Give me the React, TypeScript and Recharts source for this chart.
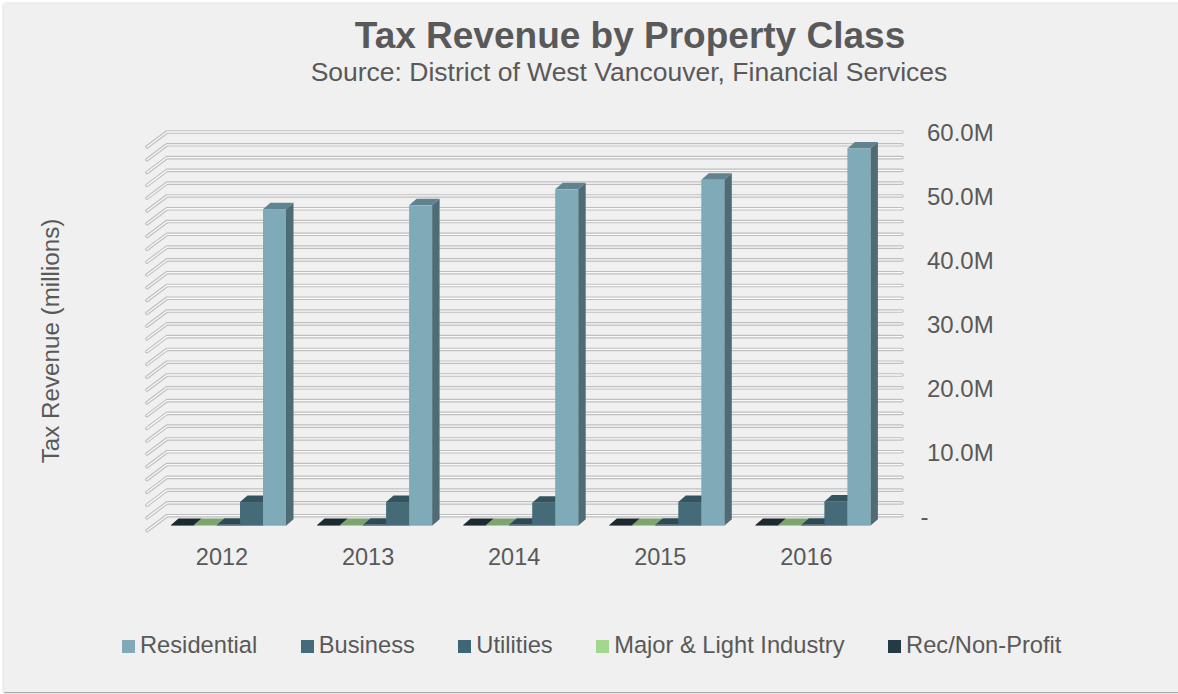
import React from 'react';
import { BarChart, Bar, XAxis, YAxis, CartesianGrid, Legend } from 'recharts';

// ---- data ----
const years = ['2012', '2013', '2014', '2015', '2016'];
const residential = [49.5, 50.1, 52.6, 54.1, 59.0];
const business = [3.7, 3.7, 3.6, 3.7, 3.8];
const utilities = [0.15, 0.15, 0.15, 0.15, 0.15];
const majorLight = [0.1, 0.1, 0.1, 0.1, 0.1];
const recNonProfit = [0.1, 0.1, 0.1, 0.1, 0.1];

const yTicks = [0, 2, 4, 6, 8, 10, 12, 14, 16, 18, 20, 22, 24, 26, 28, 30, 32, 34, 36, 38, 40, 42, 44, 46, 48, 50, 52, 54, 56, 58, 60];
const yLabelValues = [0, 10, 20, 30, 40, 50, 60];
const yLabelTexts = ['-', '10.0M', '20.0M', '30.0M', '40.0M', '50.0M', '60.0M'];

const legendNames = ['Residential', 'Business', 'Utilities', 'Major & Light Industry', 'Rec/Non-Profit'];
const legendColors = ['#80AAB9', '#436B7A', '#3F6676', '#A2D88E', '#243B45'];

const data = years.map((year, i) => ({
  year,
  rec: recNonProfit[i],
  major: majorLight[i],
  util: utilities[i],
  business: business[i],
  residential: residential[i],
}));

const FONT = '"Liberation Sans", Arial, Helvetica, sans-serif';
const TEXT = '#595959';

function make3DShape(front: string, top: string, side: string) {
  return (props: any) => {
    const { x, y, width, height } = props;
    if (x == null || y == null) return null;
    const dx = 7.5;
    const dy = 6.5;
    const off = 10;
    const fy = y + off;
    const fb = y + height + off;
    const r = x + width;
    return (
      <g>
        <path d={`M${x},${fy} L${x + dx},${fy - dy} L${r + dx},${fy - dy} L${r},${fy} Z`} fill={top} />
        <path d={`M${r},${fy} L${r + dx},${fy - dy} L${r + dx},${fb - dy} L${r},${fb} Z`} fill={side} />
        <rect x={x} y={fy} width={width} height={Math.max(height, 0)} fill={front} />
      </g>
    );
  };
}

const gridLine = (props: any) => {
  const { x1, x2, y1, index } = props;
  const d = `M${x1 - 7.5},${y1 + 15} L${x1 + 12.5},${y1} L${x2 + 17},${y1}`;
  return (
    <g key={`gl-${index}-${y1}`}>
      <path d={d} fill="none" stroke="#BEBEBE" strokeWidth={3.6} strokeLinecap="round" strokeLinejoin="round" />
      <path d={d} fill="none" stroke="#FAFAFA" strokeWidth={1.3} strokeLinecap="round" strokeLinejoin="round" />
    </g>
  );
};

const XTick = (props: any) => {
  const { x, y, payload } = props;
  return (
    <text x={x - 5.5} y={y + 49.3} textAnchor="middle" fontFamily={FONT} fontSize={23.5} fill={TEXT}>
      {payload.value}
    </text>
  );
};

const YTick = (props: any) => {
  const { x, y, payload } = props;
  const idx = yLabelValues.indexOf(payload.value);
  if (idx < 0) return <g />;
  const isZero = payload.value === 0;
  return (
    <text x={x + (isZero ? 35.5 : 42)} y={y + 9} textAnchor="start" fontFamily={FONT} fontSize={24} fill={TEXT}>
      {yLabelTexts[idx]}
    </text>
  );
};

const LegendContent = () => (
  <div
    style={{
      height: 30,
      display: 'flex',
      alignItems: 'center',
      paddingLeft: 122,
      fontFamily: FONT,
      fontSize: 23.7,
      lineHeight: '30px',
      color: TEXT,
      whiteSpace: 'nowrap',
    }}
  >
    {legendNames.map((n, i) => (
      <div key={n} style={{ display: 'flex', alignItems: 'center', marginRight: i < legendNames.length - 1 ? 43.5 : 0 }}>
        <span
          style={{
            display: 'inline-block',
            width: 13,
            height: 13,
            background: legendColors[i],
            marginRight: 5,
            position: 'relative',
            top: 1.5,
          }}
        />
        <span>{n}</span>
      </div>
    ))}
  </div>
);

export default function App() {
  return (
    <div style={{ position: 'absolute', left: 0, top: 0, width: 1178, height: 694, background: '#FFFFFF', overflow: 'hidden' }}>
      <div
        style={{
          position: 'absolute',
          left: 4,
          top: 4,
          width: 1180,
          height: 688,
          background: '#F0F0F0',
          boxShadow: '0 0 3px rgba(0,0,0,0.25)',
          borderBottom: '1.5px solid #A8A8A8',
        }}
      />
      <div style={{ position: 'absolute', left: 0, top: 0 }}>
        <BarChart
          width={1178}
          height={694}
          data={data}
          margin={{ top: 132, left: 154.45, right: 193.05, bottom: 118.3 }}
          barCategoryGap={16.55}
          barGap={0}
        >
          <CartesianGrid vertical={false} horizontal={gridLine} />
          <XAxis
            dataKey="year"
            axisLine={false}
            tickLine={false}
            tickSize={0}
            tickMargin={0}
            height={30}
            interval={0}
            tick={<XTick />}
          />
          <YAxis
            orientation="right"
            width={100}
            domain={[0, 60]}
            ticks={yTicks}
            interval={0}
            axisLine={false}
            tickLine={false}
            tickSize={0}
            tickMargin={0}
            tick={<YTick />}
          />
          <Legend
            verticalAlign="bottom"
            content={<LegendContent />}
            wrapperStyle={{ position: 'absolute', left: 0, top: 629.9, width: 1178, height: 30 }}
          />
          <Bar dataKey="rec" name="Rec/Non-Profit" fill={legendColors[4]} isAnimationActive={false} shape={make3DShape('#243A43', '#1D2B30', '#182428')} />
          <Bar dataKey="major" name="Major & Light Industry" fill={legendColors[3]} isAnimationActive={false} shape={make3DShape('#8DB87C', '#7EA46F', '#6A8C5D')} />
          <Bar dataKey="util" name="Utilities" fill={legendColors[2]} isAnimationActive={false} shape={make3DShape('#3F6472', '#2E4A55', '#283F48')} />
          <Bar dataKey="business" name="Business" fill={legendColors[1]} isAnimationActive={false} shape={make3DShape('#456B79', '#35535E', '#2E4952')} />
          <Bar dataKey="residential" name="Residential" fill={legendColors[0]} isAnimationActive={false} shape={make3DShape('#7FAAB8', '#61838F', '#4F6C76')} />
        </BarChart>
      </div>
      <svg width={1178} height={694} style={{ position: 'absolute', left: 0, top: 0, pointerEvents: 'none' }}>
        <text x={630} y={48} textAnchor="middle" fontFamily={FONT} fontSize={37} fontWeight="bold" fill={TEXT}>
          Tax Revenue by Property Class
        </text>
        <text x={629} y={81} textAnchor="middle" fontFamily={FONT} fontSize={26.5} fill={TEXT}>
          Source: District of West Vancouver, Financial Services
        </text>
        <text
          transform="translate(59,341) rotate(-90)"
          textAnchor="middle"
          fontFamily={FONT}
          fontSize={24.2}
          fill={TEXT}
        >
          Tax Revenue (millions)
        </text>
      </svg>
    </div>
  );
}
